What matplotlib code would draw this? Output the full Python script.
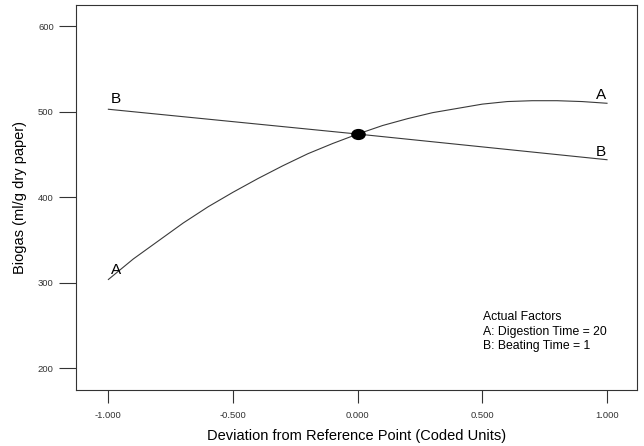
import numpy as np
import matplotlib.pyplot as plt
from matplotlib.path import Path
from matplotlib.transforms import Affine2D

plt.rcParams['font.family'] = ['Liberation Sans', 'DejaVu Sans']

# factor A (digestion time)
a_x = [-1.0, -0.9, -0.8, -0.7, -0.6, -0.5, -0.4, -0.3, -0.2, -0.1, 0.0,
       0.1, 0.2, 0.3, 0.4, 0.5, 0.6, 0.7, 0.8, 0.9, 1.0]
a_y = [304, 328, 349, 370, 389, 406, 422, 437, 451, 463, 474,
       484, 492, 499, 504, 509, 512, 513, 513, 512, 510]
# factor B (beating time)
b_x = [-1.0, 0.0, 1.0]
b_y = [503, 474, 444]

ref_x, ref_y = 0.0, 474

xticks = [-1.0, -0.5, 0.0, 0.5, 1.0]
yticks = [200, 300, 400, 500, 600]

fig = plt.figure(figsize=(6.44, 4.46), dpi=100)
ax = fig.add_axes([0.118, 0.126, 0.871, 0.863])

ax.plot(a_x, a_y, color="#3a3a3a", lw=0.8)
ax.plot(b_x, b_y, color="#3a3a3a", lw=0.8)

oval = Path.unit_circle().transformed(Affine2D().scale(1.35, 1.0))
ax.plot([ref_x], [ref_y], marker=oval, ms=9.5, color="black", ls="none")

ax.text(-0.99, 507, "B", fontsize=11, ha="left", va="bottom")
ax.text(-0.99, 307, "A", fontsize=11, ha="left", va="bottom")
ax.text(0.955, 512, "A", fontsize=11, ha="left", va="bottom")
ax.text(0.955, 445, "B", fontsize=11, ha="left", va="bottom")

ax.text(0.725, 0.205, "Actual Factors\nA: Digestion Time = 20\nB: Beating Time = 1",
        transform=ax.transAxes, fontsize=8.8, va="top", ha="left", linespacing=1.3)

ax.set_xlim(-1.13, 1.12)
ax.set_ylim(175, 625)
ax.set_xticks(xticks)
ax.set_xticklabels([f"{v:.3f}" for v in xticks])
ax.set_yticks(yticks)
ax.tick_params(axis="both", direction="out", labelsize=6.8, color="#333333",
               labelcolor="#333333", width=0.8)
ax.tick_params(axis="y", length=12, pad=4)
ax.tick_params(axis="x", length=9, pad=6)
for s in ax.spines.values():
    s.set_color("#333333")
    s.set_linewidth(0.8)

ax.set_xlabel("Deviation from Reference Point (Coded Units)", fontsize=10.5, labelpad=7)
ax.set_ylabel("Biogas (ml/g dry paper)", fontsize=10.5, labelpad=8)

fig.savefig("out.png", dpi=100)
